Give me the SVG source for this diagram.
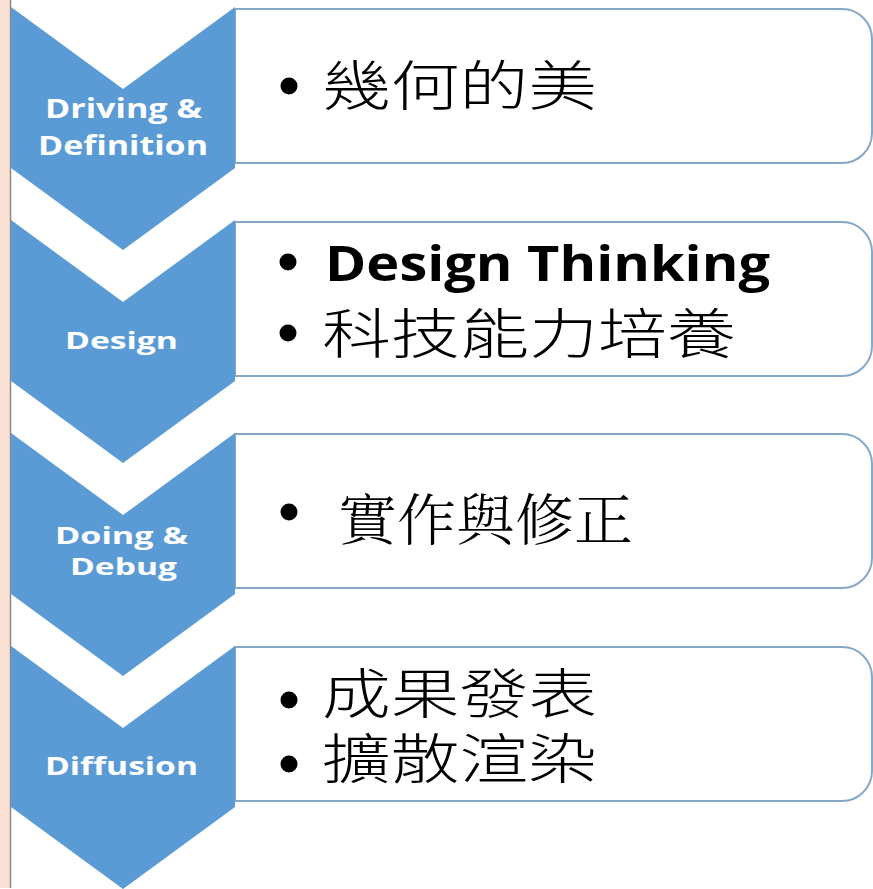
<svg xmlns="http://www.w3.org/2000/svg" width="873" height="889" viewBox="0 0 873 889">
<style>
.chev{fill:#5b9bd5}
.box{fill:#ffffff;stroke:#86a8c8;stroke-width:2}
.lbl{font-family:"Open Sans","DejaVu Sans",sans-serif;font-weight:bold;fill:#ffffff;text-anchor:middle}
.en{font-family:"Open Sans","DejaVu Sans",sans-serif;font-weight:bold;fill:#000000;font-size:48px}
.zh{font-family:"Noto Sans CJK TC","Noto Sans CJK SC",sans-serif;font-weight:300;fill:#000000;font-size:54px}
.zhs{font-family:"Noto Serif CJK TC","Noto Sans CJK TC",serif;font-weight:300;fill:#000000;font-size:56px}
.bul{fill:#000000}
</style>
<rect x="0" y="0" width="873" height="889" fill="#ffffff"/>
<g id="margin">
<rect x="0" y="0" width="10" height="888" fill="#fbe2d5"/>
<line x1="10.5" y1="0" x2="10.5" y2="888" stroke="#8a8a8a" stroke-width="1.5"/>
</g>
<g id="stage1">
<path class="box" d="M235,9 H842 A30,30 0 0 1 872,39 V133 A30,30 0 0 1 842,163 H235 Z"/>
<path class="chev" d="M11,7 L123,89 L235,7 L235,168 L123,250 L11,168 Z"/>
<text class="lbl" x="123.5" y="118" font-size="26" textLength="157" lengthAdjust="spacingAndGlyphs">Driving &amp;</text>
<text class="lbl" x="123" y="155" font-size="26" textLength="170" lengthAdjust="spacingAndGlyphs">Definition</text>
<circle class="bul" cx="289" cy="86" r="8.5"/>
<text class="zh" x="322" y="106" textLength="275" lengthAdjust="spacingAndGlyphs">幾何的美</text>
</g>
<g id="stage2">
<path class="box" d="M235,222 H842 A30,30 0 0 1 872,252 V346 A30,30 0 0 1 842,376 H235 Z"/>
<path class="chev" d="M11,220 L123,302 L235,220 L235,381 L123,463 L11,381 Z"/>
<text class="lbl" x="121.5" y="349" font-size="23" textLength="113" lengthAdjust="spacingAndGlyphs">Design</text>
<circle class="bul" cx="288" cy="262" r="8.5"/>
<text class="en" x="325" y="281" textLength="445" lengthAdjust="spacingAndGlyphs">Design Thinking</text>
<circle class="bul" cx="288" cy="333" r="8.5"/>
<text class="zh" x="322" y="354" textLength="414" lengthAdjust="spacingAndGlyphs">科技能力培養</text>
</g>
<g id="stage3">
<path class="box" d="M235,434 H842 A30,30 0 0 1 872,464 V558 A30,30 0 0 1 842,588 H235 Z"/>
<path class="chev" d="M11,433 L123,515 L235,433 L235,594 L123,676 L11,594 Z"/>
<text class="lbl" x="121.5" y="544" font-size="23" textLength="133" lengthAdjust="spacingAndGlyphs">Doing &amp;</text>
<text class="lbl" x="123.5" y="575" font-size="23" textLength="107" lengthAdjust="spacingAndGlyphs">Debug</text>
<circle class="bul" cx="289" cy="512" r="8.5"/>
<text class="zhs" x="338" y="540" textLength="295" lengthAdjust="spacingAndGlyphs">實作與修正</text>
</g>
<g id="stage4">
<path class="box" d="M235,647 H842 A30,30 0 0 1 872,677 V771 A30,30 0 0 1 842,801 H235 Z"/>
<path class="chev" d="M11,646 L123,728 L235,646 L235,807 L123,889 L11,807 Z"/>
<text class="lbl" x="121.5" y="775" font-size="25" textLength="153" lengthAdjust="spacingAndGlyphs">Diffusion</text>
<circle class="bul" cx="289" cy="700" r="8.5"/>
<circle class="bul" cx="289" cy="764" r="8.5"/>
<text class="zh" transform="matrix(1.273,0,0,1,322,0)"><tspan x="0" y="714">成果發表</tspan><tspan x="0" y="779">擴散渲染</tspan></text>
</g>
</svg>
